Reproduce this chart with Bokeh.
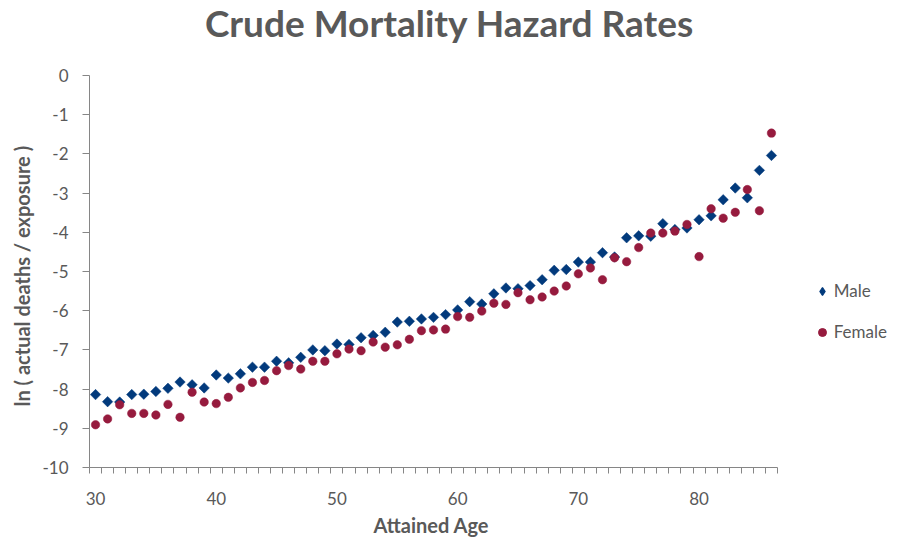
import math
from bokeh.plotting import figure
from bokeh.models import (FixedTicker, Legend, LegendItem, Range1d, ColumnDataSource,
                          Label, Title)
from bokeh.embed import file_html
from bokeh.resources import INLINE

# ---- data ----
ages = list(range(30, 87))
male = [-8.14, -8.32, -8.33, -8.14, -8.13, -8.06, -7.98, -7.82, -7.89, -7.97,
        -7.64, -7.72, -7.61, -7.44, -7.44, -7.29, -7.33, -7.19, -7.00, -7.02,
        -6.85, -6.86, -6.69, -6.63, -6.55, -6.29, -6.27, -6.21, -6.17, -6.10,
        -5.98, -5.77, -5.83, -5.57, -5.42, -5.44, -5.36, -5.21, -4.97, -4.95,
        -4.76, -4.76, -4.52, -4.63, -4.14, -4.09, -4.10, -3.78, -3.93, -3.89,
        -3.68, -3.58, -3.17, -2.87, -3.12, -2.42, -2.04]
female = [-8.91, -8.76, -8.40, -8.62, -8.62, -8.66, -8.39, -8.72, -8.08, -8.33,
          -8.37, -8.21, -7.97, -7.83, -7.78, -7.53, -7.40, -7.49, -7.29, -7.29,
          -7.10, -6.98, -7.02, -6.80, -6.93, -6.87, -6.73, -6.51, -6.49, -6.47,
          -6.15, -6.17, -6.01, -5.81, -5.84, -5.54, -5.72, -5.65, -5.50, -5.37,
          -5.06, -4.91, -5.21, -4.65, -4.75, -4.39, -4.02, -4.02, -3.97, -3.80,
          -4.62, -3.40, -3.64, -3.49, -2.91, -3.45, -1.47]
x_tick_values = [30, 40, 50, 60, 70, 80]
y_tick_values = list(range(-10, 1))
series_names = ["Male", "Female"]
title_text = "Crude Mortality Hazard Rates"
x_title = "Attained Age"
y_title = "ln ( actual deaths / exposure )"

TEXT = "#595959"
AXIS = "#868686"
MALE_C = "#023A7C"
FEMALE_C = "#961B3E"
FONT = "Lato"

# ---- layout (pixels) ----
W, H = 893, 545
LEFT, BOTTOM = 89, 78
AXIS_W, AXIS_H = 688, 392        # visible axis box inside the frame
frame_w = W - LEFT
frame_h = H - BOTTOM

x0, x1 = ages[0] - 0.5, ages[-1] + 0.5
y0, y1 = y_tick_values[0], y_tick_values[-1]
x_end = x0 + (x1 - x0) * frame_w / AXIS_W
y_end = y0 + (y1 - y0) * frame_h / AXIS_H

p = figure(width=W, height=H,
           x_range=Range1d(x0, x_end), y_range=Range1d(y0, y_end),
           output_backend="svg", toolbar_location=None,
           min_border_left=LEFT, min_border_right=0,
           min_border_top=0, min_border_bottom=BOTTOM)
p.background_fill_color = "white"
p.border_fill_color = "white"
p.outline_line_color = None
p.xgrid.visible = False
p.ygrid.visible = False

# x axis
p.xaxis.bounds = (x0, x1)
p.xaxis.ticker = FixedTicker(ticks=x_tick_values,
                             minor_ticks=[a - 0.5 for a in ages] + [x1])
p.xaxis.axis_line_color = AXIS
p.xaxis.major_tick_line_color = None
p.xaxis.major_tick_out = 6
p.xaxis.major_tick_in = 0
p.xaxis.minor_tick_line_color = AXIS
p.xaxis.minor_tick_out = 6
p.xaxis.minor_tick_in = 0
p.xaxis.major_label_standoff = 18
p.xaxis.major_label_text_font = FONT
p.xaxis.major_label_text_font_size = "17px"
p.xaxis.major_label_text_color = TEXT

# y axis
p.yaxis.bounds = (y0, y1)
p.yaxis.ticker = FixedTicker(ticks=y_tick_values)
p.yaxis.major_label_overrides = {v: str(v) for v in y_tick_values}
p.yaxis.axis_line_color = AXIS
p.yaxis.major_tick_line_color = AXIS
p.yaxis.major_tick_out = 7
p.yaxis.major_tick_in = 0
p.yaxis.minor_tick_line_color = None
p.yaxis.major_label_standoff = 14
p.yaxis.major_label_text_font = FONT
p.yaxis.major_label_text_font_size = "17px"
p.yaxis.major_label_text_color = TEXT

# axis titles (placed as side titles so they can be offset along the axis)
p.add_layout(Title(text=x_title, align="left", offset=284, vertical_align="bottom",
                   standoff=6, text_font=FONT, text_font_style="bold",
                   text_font_size="20px", text_color=TEXT), "below")
p.add_layout(Title(text=y_title, align="left", offset=61, vertical_align="bottom",
                   standoff=12, text_font=FONT, text_font_style="bold",
                   text_font_size="20px", text_color=TEXT), "left")

src = ColumnDataSource(dict(age=ages, male=male, female=female))
p.scatter("age", "male", source=src, marker="square", angle=math.pi / 4,
          size=7.4, fill_color=MALE_C, line_color=MALE_C, line_width=0.5)
p.scatter("age", "female", source=src, marker="circle",
          size=8.5, fill_color=FEMALE_C, line_color=FEMALE_C, line_width=0.5)

# renderers used only for the legend swatches (hidden in the plot)
lg_m = p.scatter("age", "male", source=src, marker="diamond", line_width=1.2,
                 fill_color=MALE_C, line_color=MALE_C, visible=False)
lg_f = p.scatter("age", "female", source=src, marker="circle",
                 fill_color=FEMALE_C, line_color=FEMALE_C, visible=False)

legend = Legend(items=[LegendItem(label=series_names[0], renderers=[lg_m], index=0),
                       LegendItem(label=series_names[1], renderers=[lg_f], index=0)],
                location=(722.7, 125), orientation="vertical",
                glyph_width=20, glyph_height=20, label_height=20, spacing=20,
                label_standoff=2, padding=0, margin=0,
                border_line_color=None, background_fill_alpha=0,
                label_text_font=FONT, label_text_font_size="17px",
                label_text_color=TEXT)
p.add_layout(legend, "center")

p.add_layout(Label(x=360, y=frame_h - 21.5, x_units="screen", y_units="screen",
                   text=title_text, text_align="center",
                   text_baseline="alphabetic", text_font=FONT,
                   text_font_style="bold", text_font_size="37px",
                   text_color=TEXT))

open("out.html", "w").write(file_html(p, INLINE))
